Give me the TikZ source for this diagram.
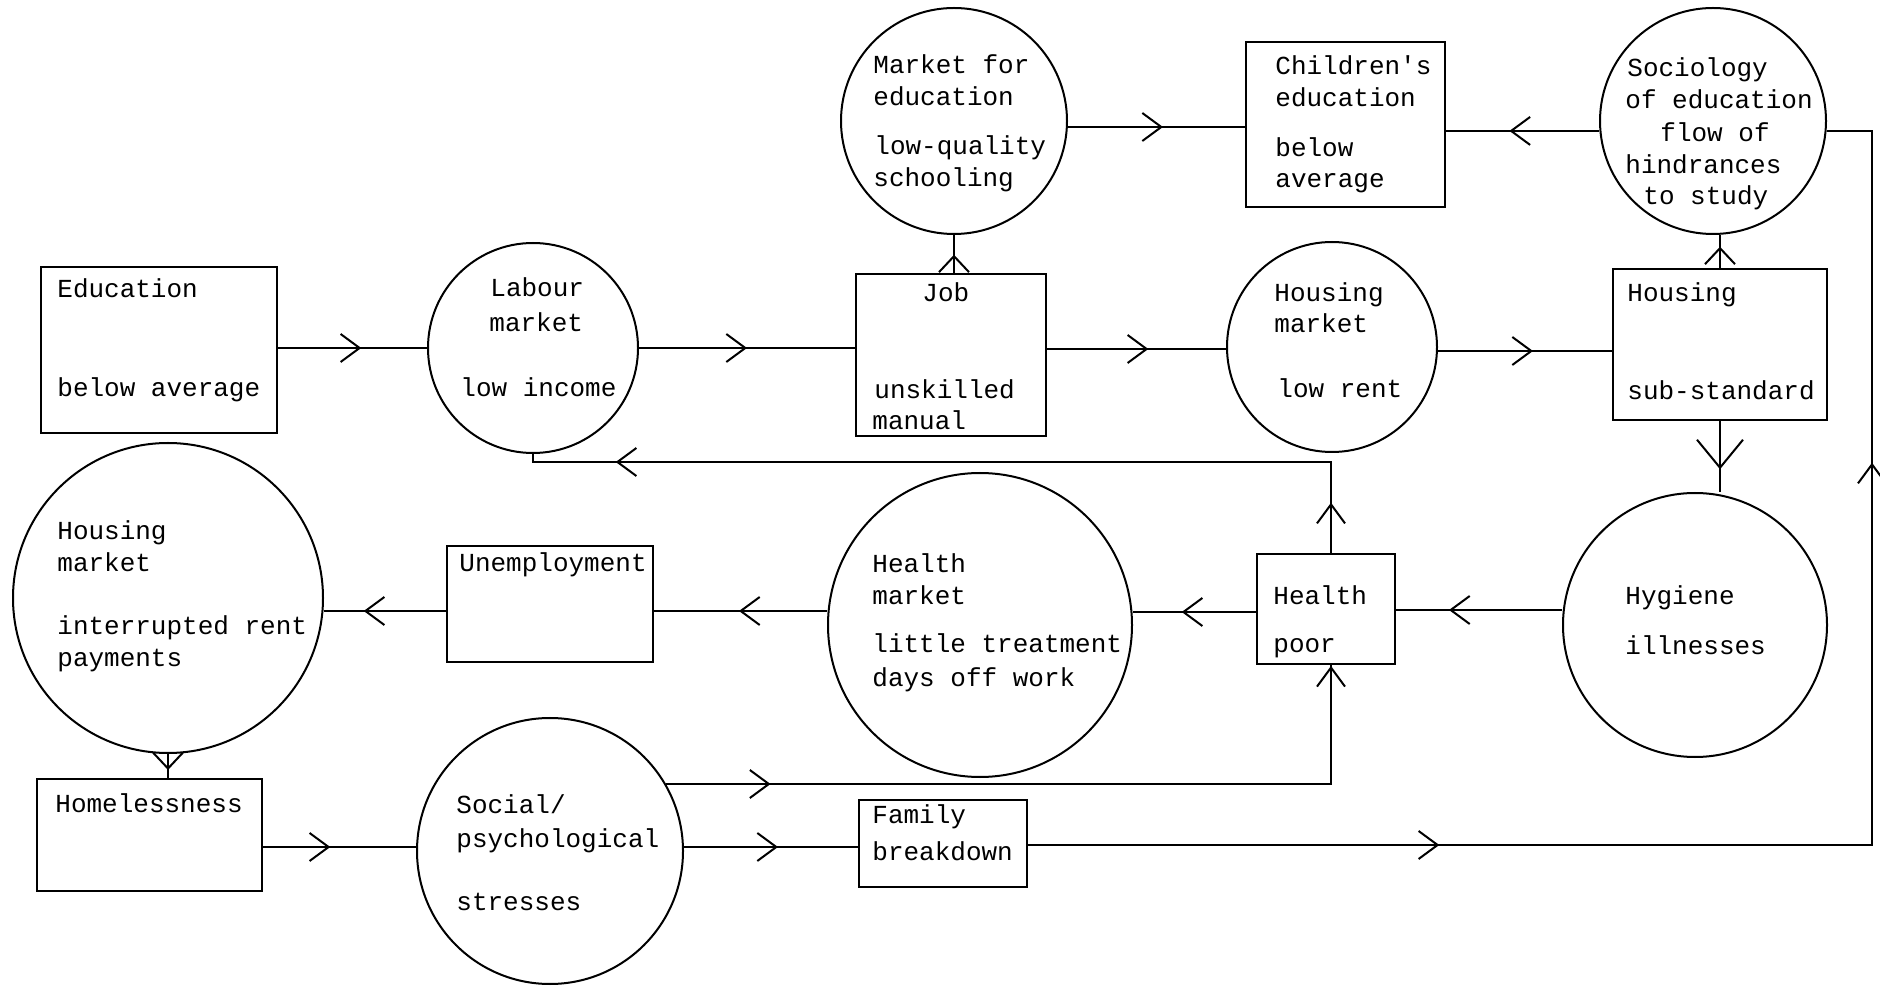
\documentclass[tikz,border=0pt]{standalone}
\usepackage{fontspec}
\setmainfont{Liberation Mono}
\newfontfamily\twfont{Liberation Mono}
\usetikzlibrary{arrows.meta,decorations.markings}

\tikzset{
  chev/.tip={Straight Barb[length=9.5pt,width=14pt]},
  schev/.tip={Straight Barb[length=8pt,width=15pt]},
  bchev/.tip={Straight Barb[length=14pt,width=23pt]},
  box/.style={draw, line width=1.3pt, rectangle, inner sep=0pt},
  circ/.style={draw, line width=1pt, circle, inner sep=0pt},
  conn/.style={line width=1pt},
  txt/.style={anchor=base west, inner sep=0pt, font=\twfont\fontsize{13pt}{15pt}\selectfont},
  arrowat/.style={postaction={decorate, decoration={markings, mark=at position #1 with {\arrow{chev}}}}},
  arrowats/.style={postaction={decorate, decoration={markings, mark=at position #1 with {\arrow{schev}}}}},
  arrowatb/.style={postaction={decorate, decoration={markings, mark=at position #1 with {\arrow{bchev}}}}},
}

\begin{document}
\begin{tikzpicture}[x=0.5pt, y=-0.5pt]
\useasboundingbox (0,0) rectangle (1880,988);
\fill[white] (0,0) rectangle (1880,988);

% ---------- boxes ----------
\node[box, minimum width=118pt, minimum height=83pt] (edu) at (159,350) {};
\node[box, minimum width=95pt, minimum height=81pt] (job) at (951,355) {};
\node[box, minimum width=99.5pt, minimum height=82.5pt] (child) at (1345.5,124.5) {};
\node[box, minimum width=107pt, minimum height=75.5pt] (hous) at (1720,344.5) {};
\node[box, minimum width=103pt, minimum height=58pt] (unemp) at (550,604) {};
\node[box, minimum width=69pt, minimum height=55pt] (health) at (1326,609) {};
\node[box, minimum width=112.5pt, minimum height=56pt] (homeless) at (149.5,835) {};
\node[box, minimum width=84pt, minimum height=43.5pt] (family) at (943,843.5) {};

% ---------- circles ----------
\node[circ, minimum size=105pt] (labour) at (533,348) {};
\node[circ, minimum size=113pt] (mfe) at (954,121) {};
\node[circ, minimum size=113pt] (soc) at (1713,121) {};
\node[circ, minimum size=105pt] (hmkt) at (1332,347) {};
\node[circ, minimum size=155pt] (lhm) at (168,598) {};
\node[circ, minimum size=152pt] (hlthm) at (980,625) {};
\node[circ, minimum size=132pt] (hyg) at (1695,625) {};
\node[circ, minimum size=133pt] (sps) at (550,851) {};

% ---------- texts ----------
\node[txt] (edu-a) at (57,298) {Education};
\node[txt] (edu-b) at (57,397) {below average};
\node[txt] (lab-a) at (490,297) {Labour};
\node[txt] (lab-b) at (489,332) {market};
\node[txt] (lab-c) at (460,397) {low income};
\node[txt] (job-a) at (922,302) {Job};
\node[txt] (job-b) at (874,399) {unskilled};
\node[txt] (job-c) at (872,430) {manual};
\node[txt] (mfe-a) at (873,74) {Market for};
\node[txt] (mfe-b) at (873,106) {education};
\node[txt] (mfe-c) at (874,155) {low-quality};
\node[txt] (mfe-d) at (873,187) {schooling};
\node[txt] (chi-a) at (1275,75) {Children's};
\node[txt] (chi-b) at (1275,107) {education};
\node[txt] (chi-c) at (1275,157) {below};
\node[txt] (chi-d) at (1275,188) {average};
\node[txt] (soc-a) at (1627,77) {Sociology};
\node[txt] (soc-b) at (1625,109) {of education};
\node[txt] (soc-c) at (1660,142) {flow of};
\node[txt] (soc-d) at (1625,174) {hindrances};
\node[txt] (soc-e) at (1643,205) {to study};
\node[txt] (hmk-a) at (1274,302) {Housing};
\node[txt] (hmk-b) at (1274,333) {market};
\node[txt] (hmk-c) at (1277,398) {low rent};
\node[txt] (hou-a) at (1627,302) {Housing};
\node[txt] (hou-b) at (1627,400) {sub-standard};
\node[txt] (lhm-a) at (57,540) {Housing};
\node[txt] (lhm-b) at (57,572) {market};
\node[txt] (lhm-c) at (57,635) {interrupted rent};
\node[txt] (lhm-d) at (57,667) {payments};
\node[txt] (une-a) at (459,572) {Unemployment};
\node[txt] (hlm-a) at (872,573) {Health};
\node[txt] (hlm-b) at (872,605) {market};
\node[txt] (hlm-c) at (872,653) {little treatment};
\node[txt] (hlm-d) at (872,687) {days off work};
\node[txt] (hea-a) at (1273,605) {Health};
\node[txt] (hea-b) at (1273,653) {poor};
\node[txt] (hyg-a) at (1625,605) {Hygiene};
\node[txt] (hyg-b) at (1625,655) {illnesses};
\node[txt] (hom-a) at (55,812) {Homelessness};
\node[txt] (sps-a) at (456,813) {Social/};
\node[txt] (sps-b) at (456,847) {psychological};
\node[txt] (sps-c) at (456,910) {stresses};
\node[txt] (fam-a) at (872,823) {Family};
\node[txt] (fam-b) at (872,860) {breakdown};

% ---------- connectors ----------
\coordinate (hx) at (1331,0);
\coordinate (rx) at (1872,0);

\draw[conn, arrowat=41.5pt] (edu.east |- labour.west) -- (labour.west);
\draw[conn, arrowat=54pt] (labour.east) -- (labour.east -| job.west);
\draw[conn, arrowat=50.5pt] (job.east |- 0,349) -- (hmkt.west |- 0,349);
\draw[conn, arrowat=47.5pt] (hmkt.east |- 0,351) -- (hous.west |- 0,351);
\draw[conn, arrowats=9pt] (mfe.south |- job.north) -- (mfe.south);
\draw[conn, arrowat=47.5pt] (mfe.east |- 0,127) -- (child.west |- 0,127);
\draw[conn, arrowat=45pt] (soc.185) -- (soc.185 -| child.east);
\draw[conn, arrowats=10.5pt] (hous.north) -- (hous.north |- soc.south);
\draw[conn, arrowatb=24pt] (hous.south) -- (hous.south |- hyg.north);
\draw[conn, arrowat=56.5pt] (hyg.west |- 0,610) -- (health.east |- 0,610);
\draw[conn, arrowat=37pt] (health.west |- 0,612) -- (hlthm.east |- 0,612);
\draw[conn, arrowat=44pt] (hlthm.west |- 0,611) -- (unemp.east |- 0,611);
\draw[conn, arrowat=41pt] (unemp.west |- 0,611) -- (lhm.east |- 0,611);
\draw[conn, arrowats=8pt] (lhm.south) -- (lhm.south |- homeless.north);
\draw[conn, arrowat=33.5pt] (homeless.east |- 0,847) -- (sps.west |- 0,847);
\draw[conn, arrowat=47pt] (sps.east |- 0,847) -- (family.west |- 0,847);
\draw[conn, arrowat=52.25pt, arrowat=-0.3pt] (sps.30) -- (sps.30 -| hx) -- (hx |- health.south);
\draw[conn, arrowat=25pt, arrowat=403pt] (hx |- health.north) -- (hx |- 0,462) -- (labour.south |- 0,462) -- (labour.south);
\draw[conn, arrowat=205.5pt, arrowat=613pt] (family.east |- 0,845) -- (rx |- 0,845) -- (rx |- soc.355) -- (soc.355);
\end{tikzpicture}
\end{document}
